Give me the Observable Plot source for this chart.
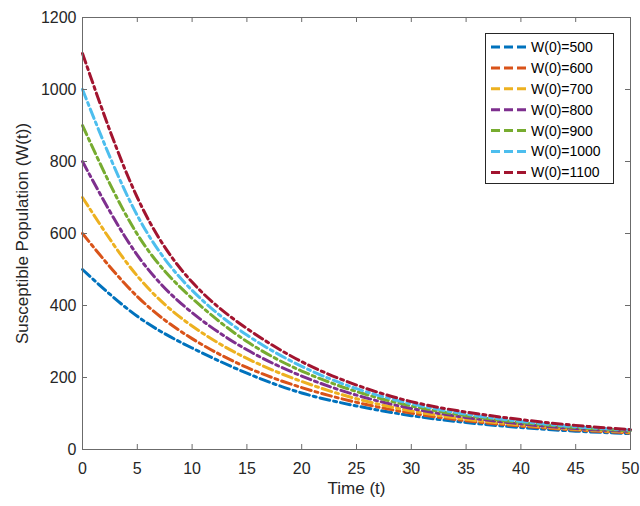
<!DOCTYPE html>
<html>
<head>
<meta charset="utf-8">
<script src="https://cdn.jsdelivr.net/npm/d3@7"></script>
<script src="https://cdn.jsdelivr.net/npm/@observablehq/plot@0.6"></script>
<style>
  html, body { margin: 0; padding: 0; background: #fff; }
  #wrap { position: relative; width: 640px; height: 506px; font-family: "Liberation Sans", Arial, sans-serif; }
  #legend { position: absolute; left: 485px; top: 33px; width: 127px; height: 149px; border: 1px solid #262626; background: #fff; }
</style>
</head>
<body>
<div id="wrap"><div id="chart"></div><div id="legend"></div></div>
<script>
const tValues = [0, 5, 10, 15, 20, 25, 30, 35, 40, 45, 50];
const seriesNames = ["W(0)=500", "W(0)=600", "W(0)=700", "W(0)=800", "W(0)=900", "W(0)=1000", "W(0)=1100"];
const w500  = [500, 370, 282, 212, 157, 121, 94, 75, 61, 51, 44];
const w600  = [600, 425, 308, 228, 172, 131, 101, 80, 65, 54, 46];
const w700  = [700, 482, 343, 253, 189, 141, 107, 84, 68, 56, 48];
const w800  = [800, 540, 380, 277, 204, 151, 114, 89, 71, 58, 50];
const w900  = [900, 598, 420, 300, 218, 161, 121, 94, 75, 61, 52];
const w1000 = [1000, 650, 442, 318, 231, 169, 127, 98, 78, 63, 54];
const w1100 = [1100, 700, 465, 336, 244, 179, 133, 104, 83, 67, 55];
const colors = ["#0072BD", "#D95319", "#EDB120", "#7E2F8E", "#77AC30", "#4DBEEE", "#A2142F"];
const xTicks = [0, 5, 10, 15, 20, 25, 30, 35, 40, 45, 50];
const yTicks = [0, 200, 400, 600, 800, 1000, 1200];
const xLabel = "Time (t)";
const yLabel = "Susceptible Population (W(t))";

const allSeries = [w500, w600, w700, w800, w900, w1000, w1100];
const rows = [];
allSeries.forEach((vals, i) => vals.forEach((w, j) => rows.push({series: seriesNames[i], t: tValues[j], w})));

const H = 506, mT = 17, mB = 57, mL = 82, mR = 10;
const innerH = H - mT - mB, innerW = 640 - mL - mR;
const tick = 5;
const dash = "10,4,3,4";

const chart = Plot.plot({
  width: 640, height: H,
  marginTop: mT, marginBottom: mB, marginLeft: mL, marginRight: mR,
  style: {fontFamily: "Liberation Sans, Arial, sans-serif", fontSize: "16px", color: "#262626", background: "#fff"},
  x: {domain: [0, 50]},
  y: {domain: [0, 1200]},
  color: {domain: seriesNames, range: colors},
  marks: [
    Plot.line(rows, {x: "t", y: "w", z: "series", stroke: "series", curve: "natural", strokeWidth: 3, strokeDasharray: dash}),
    Plot.frame({stroke: "#6b6b6b", strokeWidth: 1}),
    Plot.ruleX(xTicks, {insetTop: innerH - tick, stroke: "#6b6b6b"}),
    Plot.ruleX(xTicks, {insetBottom: innerH - tick, stroke: "#6b6b6b"}),
    Plot.ruleY(yTicks, {insetRight: innerW - tick, stroke: "#6b6b6b"}),
    Plot.ruleY(yTicks, {insetLeft: innerW - tick, stroke: "#6b6b6b"}),
    Plot.axisX({ticks: xTicks, tickSize: 0, tickPadding: 13, label: null, fill: "#262626", tickFormat: d => String(d)}),
    Plot.axisY({ticks: yTicks, tickSize: 0, tickPadding: 6, label: null, fill: "#262626", tickFormat: d => String(d)}),
    Plot.text([xLabel], {frameAnchor: "bottom", textAnchor: "middle", dy: 44, fontSize: 17, fill: "#262626"}),
    Plot.text([yLabel], {frameAnchor: "left", textAnchor: "middle", dx: -60, rotate: -90, fontSize: 17, fill: "#262626"})
  ]
});
document.getElementById("chart").appendChild(chart);

// legend
const ns = "http://www.w3.org/2000/svg";
const lsvg = document.createElementNS(ns, "svg");
lsvg.setAttribute("width", 127); lsvg.setAttribute("height", 149);
seriesNames.forEach((name, i) => {
  const y = 13 + i * 20.9;
  const line = document.createElementNS(ns, "line");
  line.setAttribute("x1", 5); line.setAttribute("x2", 42);
  line.setAttribute("y1", y); line.setAttribute("y2", y);
  line.setAttribute("stroke", colors[i]); line.setAttribute("stroke-width", 3);
  line.setAttribute("stroke-dasharray", "9,4");
  lsvg.appendChild(line);
  const txt = document.createElementNS(ns, "text");
  txt.setAttribute("x", 45); txt.setAttribute("y", y);
  txt.setAttribute("dy", "0.35em");
  txt.setAttribute("font-size", "14px");
  txt.setAttribute("font-family", "Liberation Sans, Arial, sans-serif");
  txt.setAttribute("fill", "#000");
  txt.textContent = name;
  lsvg.appendChild(txt);
});
document.getElementById("legend").appendChild(lsvg);
</script>
</body>
</html>
